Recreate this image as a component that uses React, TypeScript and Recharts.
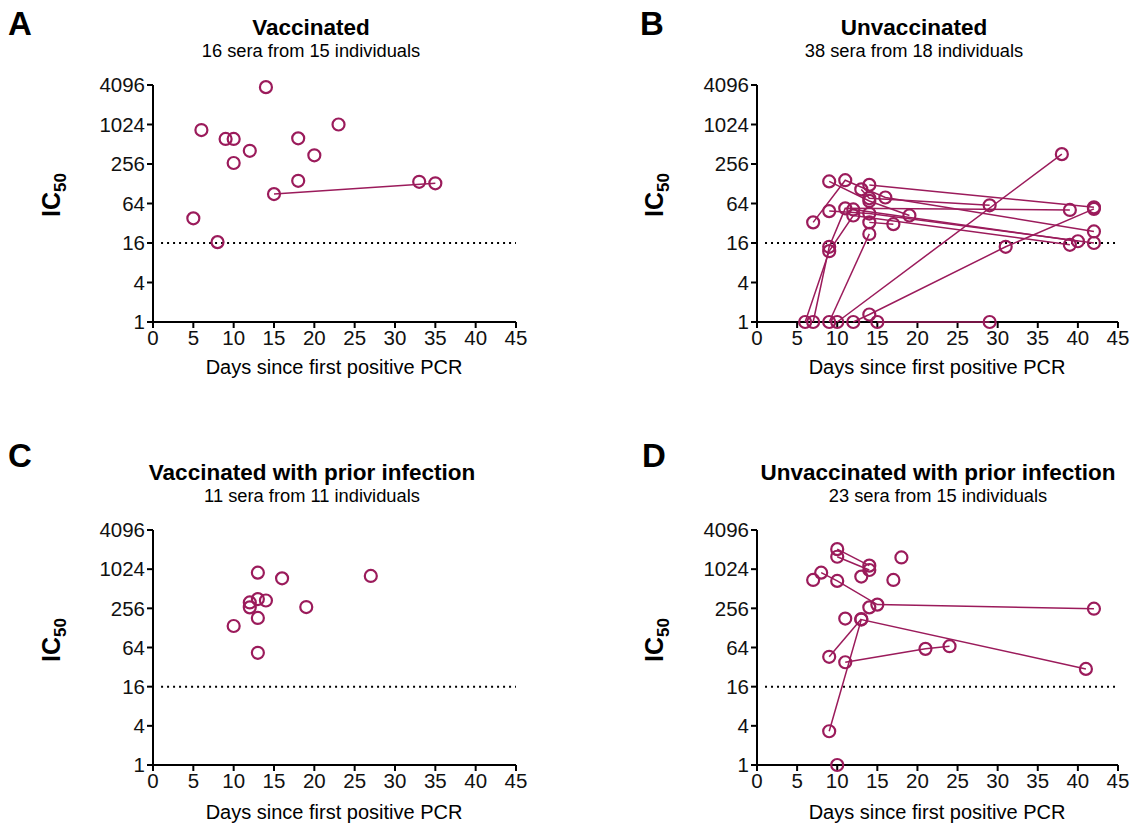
import React from 'react';
import { ScatterChart, Scatter, XAxis, YAxis, ReferenceLine } from 'recharts';

// each inner array is one individual; points are [days since PCR, IC50]
type Pt = [number, number];

const vaccinated: Pt[][] = [
  [[5, 38]], [[6, 843]], [[9, 617]], [[10, 617]], [[10, 265]], [[12, 407]],
  [[14, 3800]], [[8, 16.5]], [[18, 142]], [[18, 630]], [[20, 347]], [[23, 1024]],
  [[33, 137]], [[15, 89], [35, 130]],
];

const unvaccinated: Pt[][] = [
  [[6, 1], [9, 12], [12, 42], [39, 15]],
  [[7, 1], [9, 14], [11, 54], [39, 51]],
  [[9, 1], [14, 22]],
  [[10, 1], [38, 362]],
  [[12, 1], [14, 1.3], [31, 14], [42, 53]],
  [[15, 1], [29, 1]],
  [[9, 139], [14, 70], [19, 42]],
  [[7, 33], [11, 145], [16, 79], [42, 24]],
  [[13, 105], [14, 77], [29, 60]],
  [[14, 123], [42, 56]],
  [[9, 49], [14, 45], [42, 16]],
  [[12, 52], [40, 17]],
  [[14, 33], [17, 31]],
];

const vaccinatedPrior: Pt[][] = [
  [[10, 137]], [[12, 315]], [[12, 265]], [[13, 905]], [[13, 355]], [[13, 182]],
  [[13, 53]], [[14, 338]], [[16, 740]], [[19, 268]], [[27, 805]],
];

const unvaccinatedPrior: Pt[][] = [
  [[10, 2080], [14, 1160]],
  [[10, 1590], [14, 995]],
  [[18, 1550]], [[7, 700]], [[13, 787]], [[17, 700]], [[11, 178]], [[14, 265]], [[10, 1]],
  [[8, 905], [10, 676], [15, 292], [42, 253]],
  [[9, 3.3], [13, 172], [41, 30]],
  [[9, 46], [13, 175]],
  [[11, 38], [21, 61], [24, 67]],
];

const xTicks = [0, 5, 10, 15, 20, 25, 30, 35, 40, 45];
const yTicks = [1, 4, 16, 64, 256, 1024, 4096];
const threshold = 16;

const PURPLE = '#9B1B5B';
const FONT = '"Liberation Sans", Arial, sans-serif';

const OpenCircle = (props: any) => {
  const { cx, cy } = props;
  if (cx == null || cy == null) return null;
  return <circle cx={cx} cy={cy} r={6} fill="none" stroke={PURPLE} strokeWidth={2.2} />;
};

interface PanelProps {
  left: number;
  top: number;
  width: number;
  plotTop: number;
  plotHeight: number;
  groups: Pt[][];
}

const Panel: React.FC<PanelProps> = ({ left, top, width, plotTop, plotHeight, groups }) => {
  const height = plotTop + plotHeight + 40 + 10;
  const tick = { fill: '#111', fontSize: 20.5, fontFamily: FONT };
  return (
    <div style={{ position: 'absolute', left, top }}>
      <ScatterChart width={width} height={height} margin={{ top: plotTop, right: 44, left: 0, bottom: 10 }}>
        <XAxis
          type="number"
          dataKey="x"
          domain={[0, 45]}
          ticks={xTicks}
          interval={0}
          height={40}
          tick={tick}
          tickSize={6}
          tickMargin={2}
          stroke="#000"
          strokeWidth={2}
          tickLine={{ stroke: '#000', strokeWidth: 2 }}
        />
        <YAxis
          type="number"
          dataKey="y"
          scale="log"
          domain={[1, 4096]}
          ticks={yTicks}
          interval={0}
          width={153}
          tick={tick}
          tickSize={6}
          tickMargin={2}
          stroke="#000"
          strokeWidth={2}
          tickLine={{ stroke: '#000', strokeWidth: 2 }}
        />
        <ReferenceLine
          segment={[{ x: 1, y: threshold }, { x: 45, y: threshold }]}
          stroke="#000"
          strokeWidth={2}
          strokeDasharray="2 4"
        />
        {groups.map((g, i) => (
          <Scatter
            key={i}
            data={g.map(([x, y]) => ({ x, y }))}
            line={g.length > 1 ? { stroke: PURPLE, strokeWidth: 1.5 } : false}
            shape={<OpenCircle />}
            isAnimationActive={false}
          />
        ))}
      </ScatterChart>
    </div>
  );
};

const YLabel: React.FC<{ x: number; y: number }> = ({ x, y }) => (
  <text
    x={x}
    y={y}
    transform={`rotate(-90, ${x}, ${y})`}
    textAnchor="middle"
    fontFamily={FONT}
    fontWeight="bold"
    fontSize={25}
    fill="#000"
  >
    IC
    <tspan fontSize={17} dy={6}>50</tspan>
  </text>
);

const Header: React.FC<{ letter: string; lx: number; ly: number; title: string; sub: string; tx: number; ty: number }> = ({
  letter, lx, ly, title, sub, tx, ty,
}) => (
  <g fontFamily={FONT} fill="#000">
    <text x={lx} y={ly} fontSize={33} fontWeight="bold">{letter}</text>
    <text x={tx} y={ty} fontSize={22.5} fontWeight="bold" textAnchor="middle">{title}</text>
    <text x={tx} y={ty + 22} fontSize={18.3} textAnchor="middle">{sub}</text>
  </g>
);

const XLabel: React.FC<{ x: number; y: number }> = ({ x, y }) => (
  <text x={x} y={y} fontFamily={FONT} fontSize={20} textAnchor="middle" fill="#000">
    Days since first positive PCR
  </text>
);

export default function App() {
  return (
    <div style={{ position: 'absolute', left: 0, top: 0, width: 1139, height: 832, background: '#fff' }}>
      <Panel left={0} top={0} width={560} plotTop={85} plotHeight={237} groups={vaccinated} />
      <Panel left={604} top={0} width={558} plotTop={85} plotHeight={237} groups={unvaccinated} />
      <Panel left={0} top={445} width={560} plotTop={85} plotHeight={235} groups={vaccinatedPrior} />
      <Panel left={604} top={445} width={558} plotTop={85} plotHeight={235} groups={unvaccinatedPrior} />
      <svg width={1139} height={832} style={{ position: 'absolute', left: 0, top: 0, pointerEvents: 'none' }}>
        <Header letter="A" lx={8} ly={35} title="Vaccinated" sub="16 sera from 15 individuals" tx={311} ty={35} />
        <Header letter="B" lx={640} ly={35} title="Unvaccinated" sub="38 sera from 18 individuals" tx={914} ty={35} />
        <Header letter="C" lx={8} ly={467} title="Vaccinated with prior infection" sub="11 sera from 11 individuals" tx={312} ty={480} />
        <Header letter="D" lx={642} ly={467} title="Unvaccinated with prior infection" sub="23 sera from 15 individuals" tx={938} ty={480} />
        <YLabel x={60} y={195} />
        <YLabel x={663} y={195} />
        <YLabel x={60} y={640} />
        <YLabel x={663} y={640} />
        <XLabel x={334} y={374} />
        <XLabel x={937} y={374} />
        <XLabel x={334} y={819} />
        <XLabel x={937} y={819} />
      </svg>
    </div>
  );
}
